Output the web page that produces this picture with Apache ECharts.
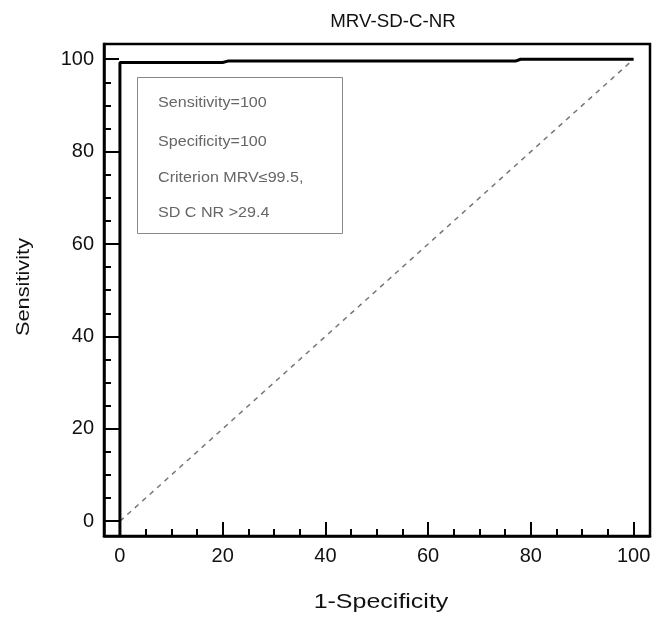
<!DOCTYPE html>
<html><head><meta charset="utf-8">
<script src="https://cdn.jsdelivr.net/npm/echarts@6/dist/echarts.min.js"></script>
<style>html,body{margin:0;padding:0;background:#fff}#c{width:656px;height:617px}</style>
</head><body><div id="c"></div>
<script>
const titleText = 'MRV-SD-C-NR';
const xName = '1-Specificity';
const yName = 'Sensitivity';
const majorTicks = [0, 20, 40, 60, 80, 100];
const minorTicks = [5, 10, 15, 25, 30, 35, 45, 50, 55, 65, 70, 75, 85, 90, 95];
const rocX = [0, 0, 20, 21, 77, 78, 100];
const rocY = [-3.2, 99.3, 99.3, 99.6, 99.6, 100, 100];
const refX = [0, 100];
const refY = [0, 100];
const infoLines = ['Sensitivity=100', 'Specificity=100', 'Criterion MRV\u226499.5,', 'SD C NR >29.4'];

const zip = (a, b) => a.map((v, i) => [v, b[i]]);
const XMIN = -3.1, XMAX = 103.2, YMIN = -3.2, YMAX = 103.3;
const font = 'Arial, "Liberation Sans", sans-serif';

function axisBase(min, max) {
  return { type: 'value', min: min, max: max, splitLine: { show: false } };
}
const noZero = { onZero: false };

const chart = echarts.init(document.getElementById('c'));
chart.setOption({
  animation: false,
  grid: { left: 104, right: 6, top: 44, bottom: 81, show: true, borderColor: '#000', borderWidth: 2.5, backgroundColor: 'transparent' },
  xAxis: [
    Object.assign(axisBase(XMIN, XMAX), {
      axisLine: { show: true, onZero: false, lineStyle: { color: '#000', width: 2.5 } },
      axisTick: { show: true, inside: true, length: 14, customValues: majorTicks, lineStyle: { color: '#000', width: 2 } },
      axisLabel: { show: true, customValues: majorTicks, margin: 10, fontFamily: font, fontSize: 20, color: '#111' }
    }),
    Object.assign(axisBase(XMIN, XMAX), {
      position: 'bottom',
      axisLine: { show: false, onZero: false },
      axisTick: { show: true, inside: true, length: 7, customValues: minorTicks, lineStyle: { color: '#000', width: 2 } },
      axisLabel: { show: false }
    })
  ],
  yAxis: [
    Object.assign(axisBase(YMIN, YMAX), {
      axisLine: { show: true, onZero: false, lineStyle: { color: '#000', width: 2.5 } },
      axisTick: { show: true, inside: true, length: 15, customValues: majorTicks, lineStyle: { color: '#000', width: 2 } },
      axisLabel: { show: true, customValues: majorTicks, margin: 10, fontFamily: font, fontSize: 20, color: '#111' }
    }),
    Object.assign(axisBase(YMIN, YMAX), {
      position: 'left',
      axisLine: { show: false, onZero: false },
      axisTick: { show: true, inside: true, length: 7, customValues: minorTicks, lineStyle: { color: '#000', width: 2 } },
      axisLabel: { show: false }
    })
  ],
  series: [
    { type: 'line', data: zip(refX, refY), symbol: 'none', silent: true,
      lineStyle: { color: '#777', width: 1.5, type: [5, 5] } },
    { type: 'line', data: zip(rocX, rocY), symbol: 'none', silent: true,
      lineStyle: { color: '#000', width: 3 } }
  ],
  graphic: [
    { type: 'text', x: 393, y: 22, scaleX: 1.04, z: 101,
      style: { text: titleText, fill: '#111', font: '18px ' + font, align: 'center', verticalAlign: 'middle' } },
    { type: 'text', x: 381, y: 602, scaleX: 1.19, z: 101,
      style: { text: xName, fill: '#111', font: '21px ' + font, align: 'center', verticalAlign: 'middle' } },
    { type: 'text', x: 24, y: 287, rotation: Math.PI / 2, scaleX: 1.21, z: 101,
      style: { text: yName, fill: '#111', font: '18px ' + font, align: 'center', verticalAlign: 'middle' } },
    { type: 'rect', shape: { x: 137.5, y: 77.5, width: 205, height: 156 },
      style: { fill: '#fff', stroke: '#888', lineWidth: 1 }, z: 100 },
    ...infoLines.map((t, i) => ({
      type: 'text', x: 158, y: [103, 142, 178, 213][i], scaleX: 1.15, z: 101,
      style: { text: t, fill: '#666', font: '14px ' + font, verticalAlign: 'middle' }
    }))
  ]
});
</script></body></html>
